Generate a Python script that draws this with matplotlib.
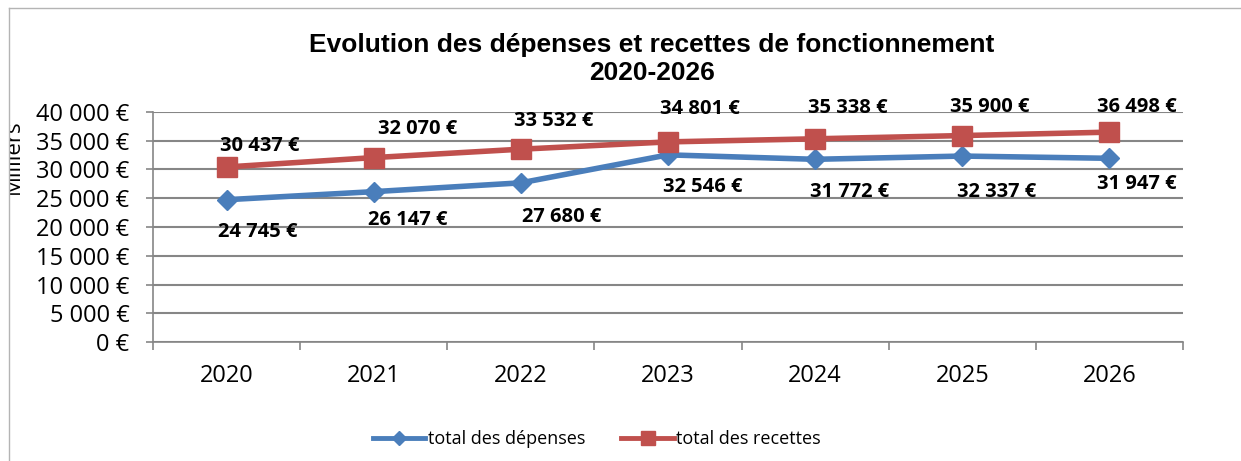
import matplotlib.pyplot as plt
from matplotlib.lines import Line2D
from matplotlib.patches import Rectangle
from matplotlib.ticker import FuncFormatter, FixedLocator

# =============================================================================
# Data
# =============================================================================

years = ['2020', '2021', '2022', '2023', '2024', '2025', '2026']
depenses = [24745, 26147, 27680, 32546, 31772, 32337, 31947]
recettes = [30437, 32070, 33532, 34801, 35338, 35900, 36498]

# label offsets (pixels)
off_rec = [(33, 21), (44, 29), (33, 28), (32, 33), (33, 31), (27, 29), (27, 25)]
off_dep = [(31, -32), (34, -28), (41, -34), (35, -32), (34, -33), (34, -36), (27, -26)]

blue = '#4a7ebb'
red = '#c0504d'
grid_c = '#868686'
tick_font = 'Open Sans'


def euro(v, pos=None):
    return f'{int(v):,} €'.replace(',', ' ')


# =============================================================================
# Figure
# =============================================================================

fig = plt.figure(figsize=(12.41, 4.61), dpi=100)
ax = fig.add_axes([153 / 1241, 1 - 342 / 461, 1030 / 1241, 230 / 461])

x = list(range(len(years)))
ax.plot(x, depenses, color=blue, lw=4, marker='D', ms=10, zorder=3)
ax.plot(x, recettes, color=red, lw=4, marker='s', ms=14, zorder=3)

for i in x:
    ax.annotate(euro(recettes[i]), (i, recettes[i]), xytext=off_rec[i],
                textcoords='offset pixels', ha='center', va='center',
                fontsize=14.5, fontweight='bold', family=tick_font)
    ax.annotate(euro(depenses[i]), (i, depenses[i]), xytext=off_dep[i],
                textcoords='offset pixels', ha='center', va='center',
                fontsize=14.5, fontweight='bold', family=tick_font)

# axes
ax.set_ylim(0, 40000)
ax.set_xlim(-0.5, len(years) - 0.5)
ax.set_yticks(range(0, 40001, 5000))
ax.yaxis.set_major_formatter(FuncFormatter(euro))
ax.set_xticks(x)
ax.set_xticklabels(years)
ax.xaxis.set_minor_locator(FixedLocator([i - 0.5 for i in range(len(years) + 1)]))

ax.tick_params(axis='y', length=5, width=1.2, color=grid_c, pad=12,
               labelsize=17)
ax.tick_params(axis='x', which='major', length=0, pad=16, labelsize=17)
ax.tick_params(axis='x', which='minor', length=6, width=1.2, color=grid_c)
for lab in ax.get_xticklabels() + ax.get_yticklabels():
    lab.set_family(tick_font)

ax.grid(axis='y', color=grid_c, lw=1.5)
ax.set_axisbelow(True)
for s in ['top', 'right']:
    ax.spines[s].set_visible(False)
for s in ['left', 'bottom']:
    ax.spines[s].set_color(grid_c)
    ax.spines[s].set_linewidth(1.2)

# title
fig.text(652 / 1241, 1 - 45 / 461, 'Evolution des dépenses et recettes de fonctionnement',
         ha='center', va='center', fontsize=19, fontweight='bold',
         family='Liberation Sans')
fig.text(652 / 1241, 1 - 73 / 461, '2020-2026',
         ha='center', va='center', fontsize=19, fontweight='bold',
         family='Liberation Sans')

# y label, cut by the border
fig.text(13 / 1241, 1 - 157 / 461, 'Milliers', rotation=90, ha='center',
         va='center', fontsize=16, family=tick_font)
fig.patches.append(Rectangle((0, 0), 8.5 / 1241, 1, transform=fig.transFigure,
                             facecolor='white', edgecolor='none', zorder=10))

# legend with smaller markers
handles = [Line2D([], [], color=blue, lw=3.5, marker='D', ms=7),
           Line2D([], [], color=red, lw=3.5, marker='s', ms=10)]
fig.legend(handles, ['total des dépenses', 'total des recettes'],
           loc='center', bbox_to_anchor=(597 / 1241, 1 - 439 / 461), ncol=2,
           frameon=False, prop={'family': tick_font, 'size': 13},
           handlelength=2.9, columnspacing=2.0, handletextpad=0.15)

# chart border (left and top)
fig.add_artist(Line2D([8.5 / 1241, 8.5 / 1241], [0, 1 - 8 / 461],
                      transform=fig.transFigure, color='#b4b4b4', lw=1, zorder=11))
fig.add_artist(Line2D([8.5 / 1241, 1], [1 - 8 / 461, 1 - 8 / 461],
                      transform=fig.transFigure, color='#b4b4b4', lw=1, zorder=11))

plt.savefig('out.png', dpi=100)
